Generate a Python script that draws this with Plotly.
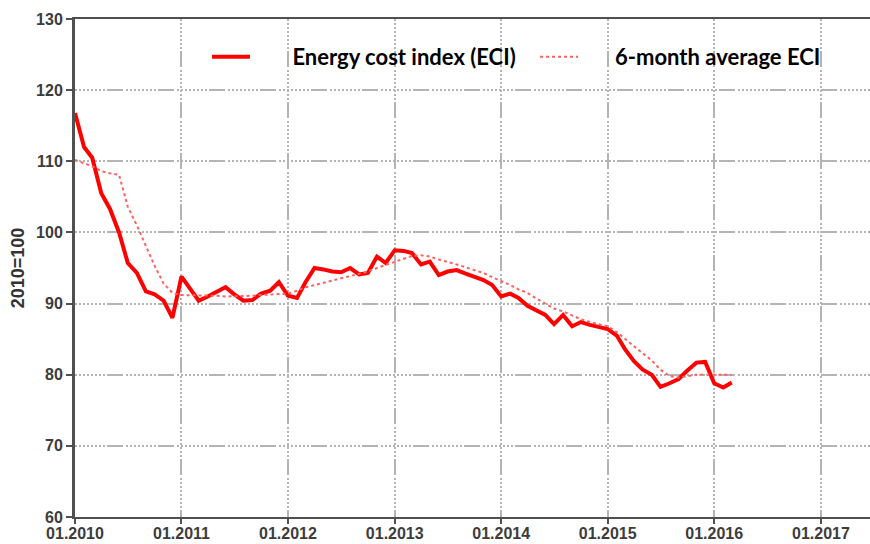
import pandas as pd
import plotly.graph_objects as go

# Monthly data, 01.2010 .. 03.2016
months = pd.date_range("2010-01-01", periods=75, freq="MS")

eci = [116.8, 112.0, 110.5, 105.5, 103.3, 100.0, 95.7, 94.3, 91.7, 91.3,
       90.4, 88.0, 93.8, 92.0, 90.4, 91.0, 91.6, 92.3, 91.3, 90.4,
       90.5, 91.4, 91.8, 93.0, 91.1, 90.8, 93.0, 95.0, 94.8, 94.5,
       94.4, 95.0, 94.1, 94.3, 96.6, 95.7, 97.5, 97.4, 97.1, 95.5,
       95.9, 94.0, 94.5, 94.7, 94.2, 93.8, 93.3, 92.6, 91.0, 91.4,
       90.8, 89.7, 89.0, 88.4, 87.1, 88.4, 86.8, 87.4, 87.0, 86.7,
       86.4, 85.5, 83.6, 81.9, 80.7, 80.0, 78.3, 78.8, 79.4, 80.6,
       81.7, 81.8, 78.8, 78.2, 78.9]

eci_6m = [110.2, 109.7, 109.3, 108.6, 108.3, 108.1, 103.6, 101.0, 98.2, 95.3,
          92.8, 91.5, 91.2, 91.2, 91.2, 91.1, 91.1, 91.0, 91.0, 91.1,
          91.1, 91.2, 91.3, 91.4, 91.4, 91.8, 92.3, 92.6, 92.9, 93.2,
          93.6, 93.9, 94.2, 94.5, 95.0, 95.4, 95.9, 96.3, 96.7, 96.8,
          96.6, 96.2, 95.9, 95.5, 95.1, 94.7, 94.3, 93.7, 93.2, 92.6,
          92.0, 91.5, 90.7, 90.0, 89.3, 88.9, 88.3, 87.8, 87.4, 87.1,
          86.8, 86.0, 85.1, 84.0, 83.0, 82.0, 80.7, 79.8, 79.6, 79.8,
          80.0, 80.0, 80.0, 80.0, 80.0]

series_names = ["Energy cost index (ECI)", "6-month average ECI"]
y_title = "2010=100"

NB = "\u00a0"
grid_dash = ",".join(["2px"] * 16 + ["16px", "3px"])

fig = go.Figure()
fig.add_trace(go.Scatter(
    x=months, y=eci, mode="lines", name=NB * 7 + series_names[0],
    line=dict(color="#ff0000", width=4), legend="legend"))
fig.add_trace(go.Scatter(
    x=months, y=eci_6m, mode="lines", name=NB * 6 + series_names[1],
    line=dict(color="#ff6060", width=2, dash="dot"), legend="legend2"))

tick_font = dict(family="Liberation Sans", size=16, color="#3c3c3c", weight="bold")
legend_font = dict(family="Lato", size=22, color="black", weight="bold")

PW = 795  # plot width in px
fig.update_layout(
    width=870, height=544,
    margin=dict(l=75, r=0, t=19, b=27),
    paper_bgcolor="white", plot_bgcolor="white",
    showlegend=True,
    legend=dict(
        orientation="h", x=(207 - 75) / PW, y=1 - (57 - 19) / 498,
        xanchor="left", yanchor="middle",
        bgcolor="rgba(0,0,0,0)", font=legend_font, itemwidth=38,
    ),
    legend2=dict(
        orientation="h", x=(535 - 75) / PW, y=1 - (57 - 19) / 498,
        xanchor="left", yanchor="middle",
        bgcolor="rgba(0,0,0,0)", font=legend_font, itemwidth=38,
    ),
    xaxis=dict(
        type="date",
        range=["2010-01-01", "2017-06-18"],
        tick0="2010-01-01", dtick="M12", tickformat="%m.%Y",
        tickfont=tick_font,
        showgrid=True, gridcolor="#b4b4b4", gridwidth=1.5, griddash=grid_dash,
        showline=True, linecolor="#505050", linewidth=2, mirror=True,
        ticks="outside", ticklen=5, tickcolor="#505050", tickwidth=1.5,
        ticklabelstandoff=-4,
        zeroline=False,
    ),
    yaxis=dict(
        range=[60, 130], dtick=10, tick0=60,
        tickfont=tick_font,
        showgrid=True, gridcolor="#b4b4b4", gridwidth=1.5, griddash=grid_dash,
        showline=True, linecolor="#505050", linewidth=3,
        ticks="outside", ticklen=6, tickcolor="#505050", tickwidth=1.5,
        zeroline=False,
        title=dict(text=y_title, standoff=7,
                   font=dict(family="Liberation Sans", size=18, color="#333333",
                             weight="bold")),
    ),
)

fig.write_html("out.html",
               config={"displayModeBar": False},
               post_script="document.body.style.margin='0px';"
                           "document.body.style.overflow='hidden';")
